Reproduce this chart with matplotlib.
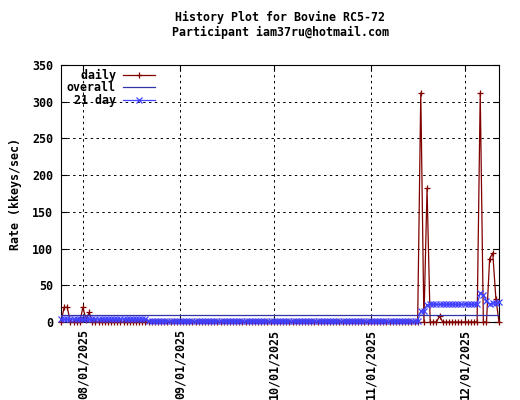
import numpy as np
import pandas as pd
import matplotlib
matplotlib.use('Agg')
import matplotlib.pyplot as plt
import matplotlib.dates as mdates

# Days covered by the plot
days = pd.date_range('2025-07-25', '2025-12-12', freq='D')

# Daily rate: zero except on these days
spike_days = ['2025-07-26', '2025-07-27', '2025-08-01', '2025-08-02', '2025-08-03',
              '2025-11-17', '2025-11-19', '2025-11-23',
              '2025-12-06', '2025-12-09', '2025-12-10', '2025-12-11']
spike_vals = [20, 20, 20, 3, 13,
              312, 182, 8,
              312, 86, 94, 32]

# 21 day running average
avg_early = [3.8] * 28          # Jul 25 .. Aug 21
avg_flat = [1.0] * 87           # Aug 22 .. Nov 16
avg_late = [15, 15, 23.5] + [24] * 16 + [39, 37, 29, 24.5, 26, 26, 27]  # Nov 17 .. Dec 12

overall = 9.5

title = 'History Plot for Bovine RC5-72\nParticipant iam37ru@hotmail.com'
ylabel = 'Rate (kkeys/sec)'

daily = pd.Series(0.0, index=days)
daily[pd.to_datetime(spike_days)] = spike_vals
avg21 = pd.Series(avg_early + avg_flat + avg_late, index=days)

FS = 8.4
plt.rcParams['font.family'] = 'DejaVu Sans Mono'
plt.rcParams['font.weight'] = 'bold'
plt.rcParams['font.size'] = FS

fig = plt.figure(figsize=(5.2, 4.0), dpi=100)
ax = fig.add_axes([61 / 520, 1 - 322 / 400, 438 / 520, 257 / 400])

ax.plot(days, daily.values, color='#800000', lw=0.9, marker='+', ms=5,
        mew=0.9, clip_on=False, label='  daily', zorder=3)
ax.plot(days, np.full(len(days), overall), color='#3333aa', lw=0.9,
        label='overall', zorder=4)
ax.plot(days, avg21.values, color='#4040ff', lw=0.9, marker='x', ms=4.5,
        mew=0.9, clip_on=False, label=' 21 day', zorder=5)

ax.set_xlim(days[0], days[-1])
ax.set_ylim(0, 350)
ax.set_yticks(np.arange(0, 351, 50))
ax.xaxis.set_major_locator(mdates.MonthLocator(bymonthday=1))
ax.xaxis.set_major_formatter(mdates.DateFormatter('%m/%d/%Y'))
plt.setp(ax.get_xticklabels(), rotation=90)

ax.tick_params(direction='in', length=4, width=0.8, top=True, right=True,
               labelsize=FS)
ax.tick_params(axis='x', pad=5)
ax.tick_params(axis='y', pad=5.8)
ax.grid(True, color='black', lw=0.7, linestyle=(0, (2.5, 3.5)))
for sp in ax.spines.values():
    sp.set_linewidth(0.8)

ax.set_ylabel(ylabel, labelpad=7, fontsize=FS, fontweight='bold')
ax.set_title(title, pad=21, linespacing=1.15, fontsize=FS, fontweight='bold')

leg = ax.legend(loc='upper left', bbox_to_anchor=(0.0, 1.008), frameon=False,
                markerfirst=False, handlelength=2.75, handletextpad=0.6,
                labelspacing=-0.05, borderaxespad=0.1, fontsize=FS)

fig.savefig('out.png', dpi=100)
